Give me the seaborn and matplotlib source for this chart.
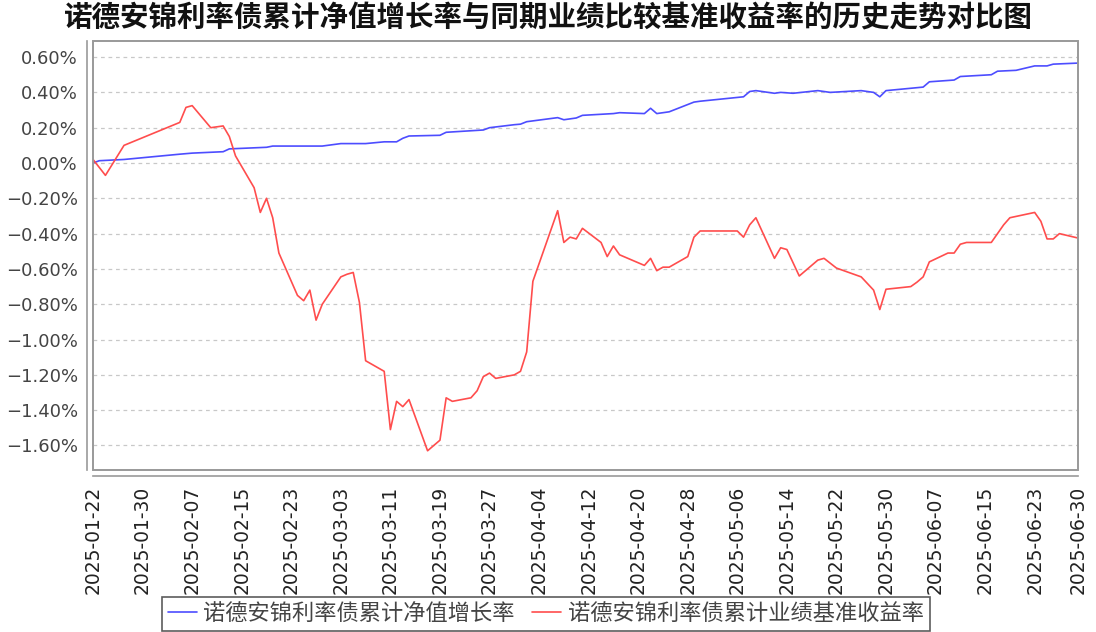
import matplotlib
matplotlib.use('Agg')
import matplotlib.pyplot as plt
import matplotlib.dates as mdates
from matplotlib.patches import Rectangle
from matplotlib.ticker import FixedLocator, FuncFormatter
import pandas as pd
import seaborn as sns

# Series names
nav_name = '诺德安锦利率债累计净值增长率'
bench_name = '诺德安锦利率债累计业绩基准收益率'
title_text = '诺德安锦利率债累计净值增长率与同期业绩比较基准收益率的历史走势对比图'

# Cumulative NAV growth (%)
nav_dates = ['2025-01-22', '2025-01-23', '2025-01-27', '2025-02-05', '2025-02-07',
             '2025-02-12', '2025-02-13', '2025-02-19', '2025-02-20', '2025-02-28',
             '2025-03-03', '2025-03-07', '2025-03-10', '2025-03-12', '2025-03-13',
             '2025-03-14', '2025-03-19', '2025-03-20', '2025-03-26', '2025-03-27',
             '2025-03-31', '2025-04-01', '2025-04-02', '2025-04-07', '2025-04-08',
             '2025-04-10', '2025-04-11', '2025-04-16', '2025-04-17', '2025-04-21',
             '2025-04-22', '2025-04-23', '2025-04-25', '2025-04-29', '2025-04-30',
             '2025-05-07', '2025-05-08', '2025-05-09', '2025-05-12', '2025-05-13',
             '2025-05-15', '2025-05-19', '2025-05-21', '2025-05-26', '2025-05-28',
             '2025-05-29', '2025-05-30', '2025-06-05', '2025-06-06', '2025-06-10',
             '2025-06-11', '2025-06-16', '2025-06-17', '2025-06-20', '2025-06-23',
             '2025-06-25', '2025-06-26', '2025-06-30']
nav_values = [0.0, 0.013, 0.02, 0.05, 0.056,
              0.064, 0.08, 0.089, 0.096, 0.096,
              0.11, 0.11, 0.12, 0.12, 0.14,
              0.153, 0.157, 0.174, 0.187, 0.20,
              0.217, 0.22, 0.234, 0.257, 0.245,
              0.255, 0.27, 0.28, 0.285, 0.28,
              0.31, 0.28, 0.29, 0.345, 0.35,
              0.375, 0.405, 0.41, 0.395, 0.40,
              0.395, 0.41, 0.40, 0.41, 0.40,
              0.375, 0.41, 0.43, 0.46, 0.47,
              0.49, 0.50, 0.52, 0.525, 0.55,
              0.55, 0.56, 0.566]

# Cumulative benchmark return (%)
bench_dates = ['2025-01-22', '2025-01-24', '2025-01-27', '2025-02-05', '2025-02-06',
               '2025-02-07', '2025-02-10', '2025-02-12', '2025-02-13', '2025-02-14',
               '2025-02-17', '2025-02-18', '2025-02-19', '2025-02-20', '2025-02-21',
               '2025-02-24', '2025-02-25', '2025-02-26', '2025-02-27', '2025-02-28',
               '2025-03-03', '2025-03-04', '2025-03-05', '2025-03-06', '2025-03-07',
               '2025-03-10', '2025-03-11', '2025-03-12', '2025-03-13', '2025-03-14',
               '2025-03-17', '2025-03-19', '2025-03-20', '2025-03-21', '2025-03-24',
               '2025-03-25', '2025-03-26', '2025-03-27', '2025-03-28', '2025-03-31',
               '2025-04-01', '2025-04-02', '2025-04-03', '2025-04-07', '2025-04-08',
               '2025-04-09', '2025-04-10', '2025-04-11', '2025-04-14', '2025-04-15',
               '2025-04-16', '2025-04-17', '2025-04-21', '2025-04-22', '2025-04-23',
               '2025-04-24', '2025-04-25', '2025-04-28', '2025-04-29', '2025-04-30',
               '2025-05-06', '2025-05-07', '2025-05-08', '2025-05-09', '2025-05-12',
               '2025-05-13', '2025-05-14', '2025-05-16', '2025-05-19', '2025-05-20',
               '2025-05-22', '2025-05-26', '2025-05-28', '2025-05-29', '2025-05-30',
               '2025-06-03', '2025-06-04', '2025-06-05', '2025-06-06', '2025-06-09',
               '2025-06-10', '2025-06-11', '2025-06-12', '2025-06-16', '2025-06-18',
               '2025-06-19', '2025-06-23', '2025-06-24', '2025-06-25', '2025-06-26',
               '2025-06-27', '2025-06-30']
bench_values = [0.02, -0.07, 0.10, 0.23, 0.315,
                0.325, 0.20, 0.21, 0.15, 0.04,
                -0.14, -0.28, -0.20, -0.31, -0.51,
                -0.75, -0.78, -0.72, -0.89, -0.80,
                -0.645, -0.63, -0.62, -0.79, -1.12,
                -1.18, -1.51, -1.35, -1.38, -1.34,
                -1.63, -1.57, -1.33, -1.35, -1.33,
                -1.29, -1.21, -1.19, -1.22, -1.20,
                -1.18, -1.07, -0.67, -0.27, -0.45,
                -0.42, -0.43, -0.37, -0.45, -0.53,
                -0.47, -0.52, -0.58, -0.54, -0.61,
                -0.59, -0.59, -0.53, -0.42, -0.385,
                -0.385, -0.42, -0.35, -0.31, -0.54,
                -0.48, -0.49, -0.64, -0.55, -0.54,
                -0.595, -0.645, -0.72, -0.83, -0.715,
                -0.70, -0.675, -0.645, -0.56, -0.51,
                -0.51, -0.46, -0.45, -0.45, -0.35,
                -0.31, -0.28, -0.33, -0.43, -0.43,
                -0.40, -0.425]

# Axis ticks
x_tick_dates = ['2025-01-22', '2025-01-30', '2025-02-07', '2025-02-15', '2025-02-23',
                '2025-03-03', '2025-03-11', '2025-03-19', '2025-03-27', '2025-04-04',
                '2025-04-12', '2025-04-20', '2025-04-28', '2025-05-06', '2025-05-14',
                '2025-05-22', '2025-05-30', '2025-06-07', '2025-06-15', '2025-06-23',
                '2025-06-30']
y_ticks = [-1.6, -1.4, -1.2, -1.0, -0.8, -0.6, -0.4, -0.2, 0.0, 0.2, 0.4, 0.6]

# Build long table for seaborn
df = pd.concat([
    pd.DataFrame({'date': pd.to_datetime(nav_dates), 'value': nav_values, 'series': nav_name}),
    pd.DataFrame({'date': pd.to_datetime(bench_dates), 'value': bench_values, 'series': bench_name}),
], ignore_index=True)

sns.set_theme(style='white')
plt.rcParams['font.family'] = ['DejaVu Sans', 'Noto Sans CJK SC']
plt.rcParams['axes.unicode_minus'] = True

fig = plt.figure(figsize=(10.96, 6.32), dpi=100)
ax = fig.add_axes([0.0849, 0.2563, 0.8987, 0.6788])

sns.lineplot(data=df, x='date', y='value', hue='series',
             palette={nav_name: '#4d4dff', bench_name: '#ff4d4d'},
             linewidth=1.2, ax=ax, legend=False)

# Axis ranges
ax.set_xlim(pd.Timestamp('2025-01-22'), pd.Timestamp('2025-06-30'))
ax.set_ylim(-1.739, 0.691)

# Ticks
ax.xaxis.set_major_locator(FixedLocator(mdates.date2num(pd.to_datetime(x_tick_dates))))
ax.xaxis.set_major_formatter(mdates.DateFormatter('%Y-%m-%d'))
ax.set_yticks(y_ticks)
ax.yaxis.set_major_formatter(FuncFormatter(lambda v, p: f'{v:.2f}%'.replace('-', '\u2212')))
ax.tick_params(axis='x', rotation=90, labelsize=13.5, colors='#999999', labelcolor='#222222',
               direction='out', length=4, width=1, pad=3)
ax.tick_params(axis='y', labelsize=13, colors='#999999', labelcolor='#444444',
               direction='out', length=4, width=1, pad=3)
ax.set_xlabel('')
ax.set_ylabel('')

# Grid
ax.yaxis.grid(True, color='#c8c8c8', linestyle=(0, (3, 3)), linewidth=0.9)
ax.xaxis.grid(False)

# Axis lines offset from the plot frame
for side in ['left', 'bottom']:
    ax.spines[side].set_position(('outward', 4))
    ax.spines[side].set_color('#999999')
    ax.spines[side].set_linewidth(1.2)
for side in ['top', 'right']:
    ax.spines[side].set_visible(False)
ax.add_patch(Rectangle((0, 0), 1, 1, transform=ax.transAxes, fill=False,
                       edgecolor='#999999', linewidth=1.4, clip_on=False, zorder=5))

# Title
fig.text(0.5, 0.971, title_text, ha='center', va='center', fontsize=20.5,
         fontweight='bold', family=['Noto Sans CJK SC', 'DejaVu Sans'], color='#111111')

# Legend
handles = [plt.Line2D([], [], color='#4d4dff', linewidth=1.2),
           plt.Line2D([], [], color='#ff4d4d', linewidth=1.2)]
leg = fig.legend(handles, [nav_name, bench_name], loc='center', bbox_to_anchor=(0.498, 0.029),
                 ncol=2, frameon=True, fancybox=False, handlelength=1.3, handletextpad=0.3,
                 columnspacing=0.8, borderpad=0.25,
                 prop={'family': ['Noto Sans CJK SC', 'DejaVu Sans'], 'size': 16})
leg.get_frame().set_edgecolor('#333333')
leg.get_frame().set_linewidth(1.2)
for t in leg.get_texts():
    t.set_color('#444444')

fig.savefig('out.png', dpi=100)
